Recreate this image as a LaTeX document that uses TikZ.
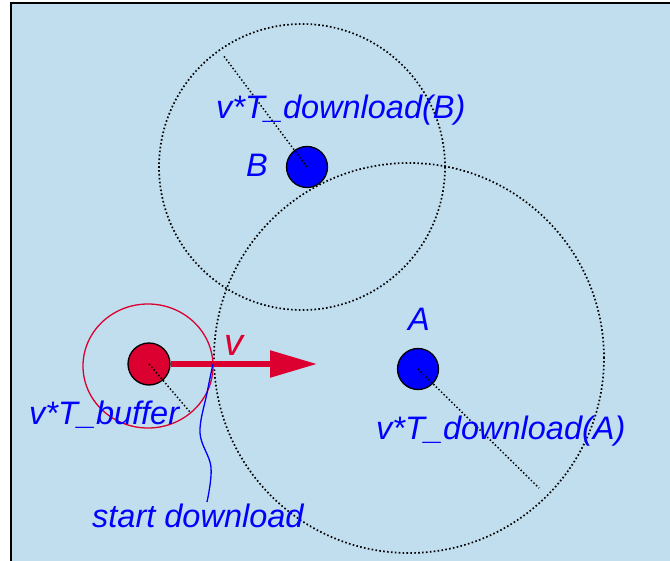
\documentclass[tikz,border=0pt]{standalone}
\usepackage{fontspec}
\setmainfont{Liberation Sans}
\usetikzlibrary{arrows.meta}
\definecolor{bg}{RGB}{192,222,238}
\definecolor{lblue}{RGB}{0,0,255}
\definecolor{myred}{RGB}{220,0,48}
\begin{document}
\begin{tikzpicture}[x=1pt,y=-1pt,
  lbl/.style={text=lblue, font=\fontsize{32.5}{38}\selectfont\itshape, inner sep=0pt, anchor=base west},
  rangec/.style={draw=black, line width=1.7pt, dash pattern=on 1.6pt off 2.3pt},
  radline/.style={draw=black, line width=1.5pt, dash pattern=on 1.4pt off 2.2pt},
  peer/.style={circle, draw=black, line width=1.3pt, fill=lblue, minimum size=41pt, inner sep=0pt},
  user/.style={circle, draw=black, line width=1.3pt, fill=myred, minimum size=42pt, inner sep=0pt}]
\useasboundingbox (0,0) rectangle (670,561);
\fill[bg] (11,3) rectangle (670,561);
\draw[line width=2pt] (11,561) -- (11,3) -- (670,3);

% coverage circles
\draw[rangec] (302,167) circle[radius=143pt];
\draw[rangec] (409,358) circle[radius=195pt];
\draw[myred, line width=1.3pt] (148,366) ellipse[x radius=65pt, y radius=62pt];

% nodes
\node[peer] (B) at (307,167) {};
\node[peer] (A) at (418,369) {};
\node[user] (U) at (149,364) {};

% radius lines
\coordinate (Bedge) at (223,55);
\coordinate (Aedge) at (539,488);
\coordinate (Uedge) at (190,412);
\draw[radline] (B.center) -- (Bedge);
\draw[radline] (A.center) -- (Aedge);
\draw[radline] (U.center) -- (Uedge);

% velocity arrow
\coordinate (vtip) at (317,364);
\draw[myred, line width=5.5pt, -{Triangle[length=47pt,width=26pt]}] (U.east) -- (vtip);
\node[text=myred, font=\fontsize{38}{44}\selectfont\itshape, inner sep=0pt, anchor=base west] (v) at (224,356) {v};

% start download pointer
\coordinate (sd) at (213,364);
\coordinate (sdEnd) at (207,502);
\draw[lblue, line width=1.3pt] plot[smooth, tension=0.6] coordinates {(sd) (207,393) (200,433) (211,467) (sdEnd)};

% labels
\node[lbl] (lB) at (216,119) {v*T\_download(B)};
\node[lbl] (nB) at (246,177) {B};
\node[lbl] (nA) at (408,331) {A};
\node[lbl] (lA) at (376,440) {v*T\_download(A)};
\node[lbl] (lU) at (29,425) {v*T\_buffer};
\node[lbl] (lS) at (92,527) {start download};
\end{tikzpicture}
\end{document}
